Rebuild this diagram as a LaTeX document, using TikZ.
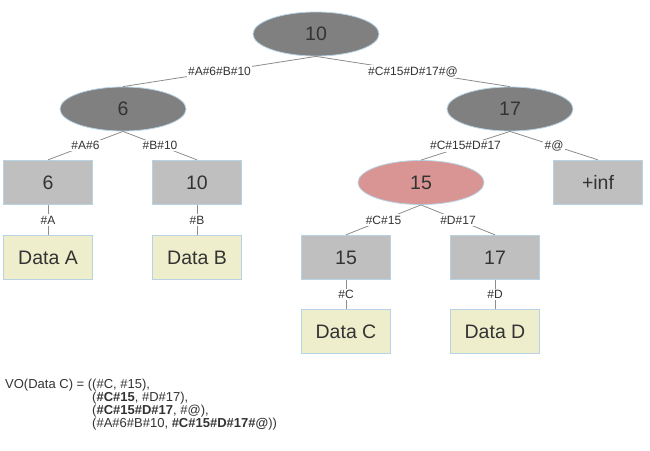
\documentclass[tikz,border=0pt]{standalone}
\usepackage{fontspec}
\setmainfont{Liberation Sans}
\usetikzlibrary{shapes.geometric}
\definecolor{innergray}{HTML}{808080}
\definecolor{leafgray}{HTML}{BFBFBF}
\definecolor{datayellow}{HTML}{EEEECC}
\definecolor{pathpink}{HTML}{D99594}
\definecolor{rim}{HTML}{B7D2E3}
\definecolor{ink}{HTML}{333333}
\definecolor{edgegray}{HTML}{8C8C8C}
\begin{document}
\begin{tikzpicture}[x=1pt,y=-1pt,
	inner/.style={ellipse,draw=rim,fill=innergray,line width=.8pt,minimum width=126pt,minimum height=44pt,inner sep=0pt,text=ink,font=\fontsize{19.5}{20}\selectfont},
	pathnode/.style={inner,fill=pathpink},
	leaf/.style={rectangle,draw=rim,fill=leafgray,line width=.8pt,minimum width=89pt,minimum height=44.5pt,inner sep=0pt,text=ink,font=\fontsize{19.5}{20}\selectfont},
	datum/.style={leaf,fill=datayellow},
	hashlabel/.style={fill=white,inner sep=1.5pt,text=ink,font=\fontsize{12}{12}\selectfont},
	wire/.style={draw=edgegray,line width=.8pt}]
	\useasboundingbox (0,0) rectangle (650,450);
	\node [inner] (R) at (316,34) {10};
	\node [inner] (L) at (123,109) {6};
	\node [inner] (Rt) at (510,109) {17};
	\node [leaf] (LL) at (48,182.5) {6};
	\node [leaf] (LR) at (197,182.5) {10};
	\node [pathnode] (RL) at (421,182.5) {15};
	\node [leaf] (RR) at (598,182.5) {+inf};
	\node [datum] (A) at (48,257.5) {Data A};
	\node [datum] (B) at (197,257.5) {Data B};
	\node [leaf] (RLL) at (346,257.5) {15};
	\node [leaf] (RLR) at (495,257.5) {17};
	\node [datum] (C) at (346,331.5) {Data C};
	\node [datum] (D) at (495,331.5) {Data D};
	\draw [wire] (R.south) -- node [hashlabel] {\#A\#6\#B\#10} (L.north);
	\draw [wire] (R.south) -- node [hashlabel] {\#C\#15\#D\#17\#@} (Rt.north);
	\draw [wire] (L.south) -- node [hashlabel] {\#A\#6} (LL.north);
	\draw [wire] (L.south) -- node [hashlabel] {\#B\#10} (LR.north);
	\draw [wire] (Rt.south) -- node [hashlabel] {\#C\#15\#D\#17} (RL.north);
	\draw [wire] (Rt.south) -- node [hashlabel] {\#@} (RR.north);
	\draw [wire] (LL.south) -- node [hashlabel] {\#A} (A.north);
	\draw [wire] (LR.south) -- node [hashlabel] {\#B} (B.north);
	\draw [wire] (RL.south) -- node [hashlabel] {\#C\#15} (RLL.north);
	\draw [wire] (RL.south) -- node [hashlabel] {\#D\#17} (RLR.north);
	\draw [wire] (RLL.south) -- node [hashlabel] {\#C} (C.north);
	\draw [wire] (RLR.south) -- node [hashlabel] {\#D} (D.north);
	\node [anchor=base west,inner sep=0pt,text=ink,font=\fontsize{13}{13}\selectfont] (VO) at (5,388)
	{\begin{tabular}[t]{@{}l@{}l@{}}
	VO(Data C) = (&(\#C, \#15),\\
	&(\textbf{\#C\#15}, \#D\#17),\\
	&(\textbf{\#C\#15\#D\#17}, \#@),\\
	&(\#A\#6\#B\#10, \textbf{\#C\#15\#D\#17\#@}))
	\end{tabular}};
\end{tikzpicture}
\end{document}
